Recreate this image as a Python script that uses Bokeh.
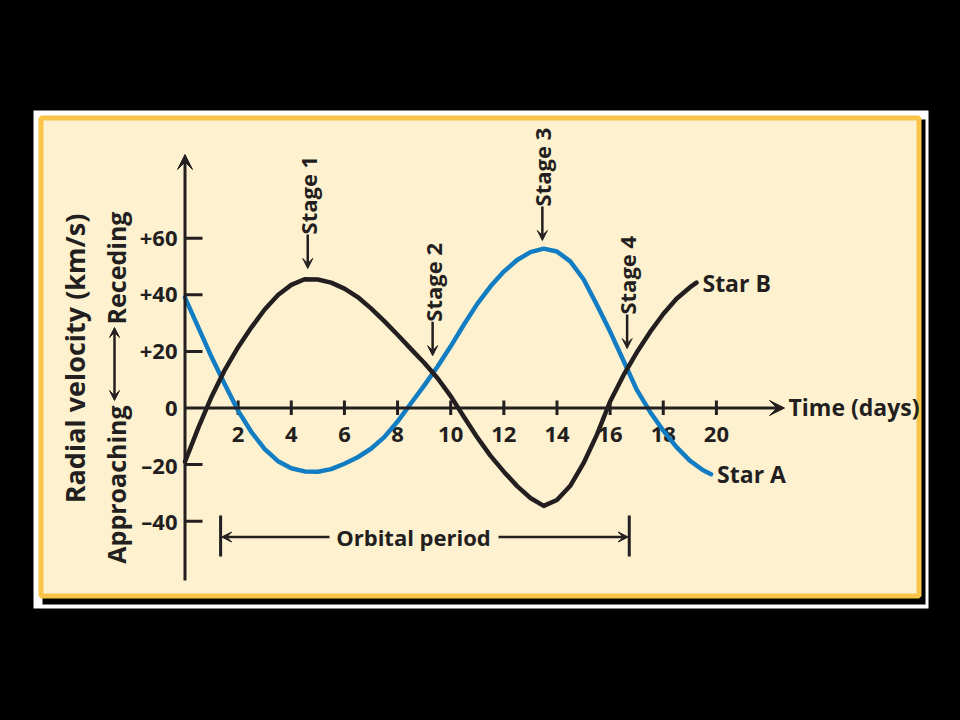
import math
from bokeh.plotting import figure
from bokeh.models import Range1d, Arrow, VeeHead
from bokeh.core.properties import value
from bokeh.embed import file_html
from bokeh.resources import INLINE
try:
    from bokeh.models import GlobalInlineStyleSheet
except Exception:
    GlobalInlineStyleSheet = None

# ---------------- data ----------------
days_a = [0.0, 0.5, 1.0, 1.5, 2.0, 2.5, 3.0, 3.5, 4.0, 4.5, 5.0, 5.5, 6.0, 6.5, 7.0,
          7.5, 8.0, 8.5, 9.0, 9.5, 10.0, 10.5, 11.0, 11.5, 12.0, 12.5, 13.0, 13.5,
          14.0, 14.5, 15.0, 15.5, 16.0, 16.5, 17.0, 17.5, 18.0, 18.5, 19.0, 19.5, 19.8]
vel_a = [39, 28.5, 18, 8.3, -1, -8.5, -14.5, -18.8, -21.3, -22.4, -22.5, -21.6, -19.7,
         -17.4, -14.4, -10.3, -4.8, 1.6, 7.9, 14.6, 21.8, 29.5, 36.8, 43.0, 48.2, 52.3,
         55.1, 56.3, 55.3, 51.8, 45.5, 36.5, 27, 16.8, 6.5, -1.3, -8.0, -13.8, -18.6,
         -22.0, -23.4]

days_b = [0.0, 0.5, 1.0, 1.5, 2.0, 2.5, 3.0, 3.5, 4.0, 4.5, 5.0, 5.5, 6.0, 6.5, 7.0,
          7.5, 8.0, 8.5, 9.0, 9.5, 10.0, 10.5, 11.0, 11.5, 12.0, 12.5, 13.0, 13.5,
          14.0, 14.5, 15.0, 15.5, 16.0, 16.5, 17.0, 17.5, 18.0, 18.5, 19.0, 19.25]
vel_b = [-19, -7, 4, 13.5, 21.5, 28.5, 34.8, 39.9, 43.5, 45.5, 45.4, 44.3, 42.2, 39.2,
         35.2, 30.7, 25.9, 20.9, 16.0, 10.6, 4.2, -3.2, -10.4, -16.9, -22.5, -27.6,
         -31.8, -34.6, -32.5, -27.5, -19.5, -9.5, 2.3, 11.5, 19.6, 26.8, 33.2, 38.6,
         42.6, 44.3]

x_ticks = [2, 4, 6, 8, 10, 12, 14, 16, 18, 20]
y_ticks = [60, 40, 20, 0, -20, -40]
y_tick_labels = ["+60", "+40", "+20", "0", "\u201320", "\u201340"]

stage_labels = ["Stage 1", "Stage 2", "Stage 3", "Stage 4"]
stage_days = [4.62, 9.32, 13.45, 16.64]
stage_vel = [49.3, 18.5, 59.2, 21.0]      # where each arrow points

period_start = 1.34
period_end = 16.72

# ---------------- geometry (page pixels -> data) ----------------
W, H = 960, 720
X0, SX = 184.5, 26.57      # page px of day 0, px per day
Y0, SY = 407.5, 2.83       # page px of 0 km/s, px per km/s


def rx(px):
    return (px - X0) / SX


def ry(py):
    return (Y0 - py) / SY


INK = "#231F20"
BLUE = "#127DC2"
FONT = value("Open Sans")

p = figure(width=W, height=H, output_backend="svg", toolbar_location=None,
           x_range=Range1d(rx(0), rx(W)), y_range=Range1d(ry(H), ry(0)),
           min_border=0, tools="")
p.axis.visible = False
p.grid.visible = False
p.outline_line_color = None
p.background_fill_color = "black"
p.border_fill_color = "black"
if GlobalInlineStyleSheet is not None:
    p.stylesheets = [GlobalInlineStyleSheet(
        css="html, body { background-color: #000000; margin: 0; padding: 0; overflow: hidden; }")]

# frame / panel
p.quad(left=[rx(33)], right=[rx(928)], top=[ry(110)], bottom=[ry(608)],
       fill_color="white", line_color=None)
p.quad(left=[rx(42)], right=[rx(925)], top=[ry(119)], bottom=[ry(604)],
       fill_color="black", line_color=None)
p.quad(left=[rx(40.5)], right=[rx(918.5)], top=[ry(117.5)], bottom=[ry(595.5)],
       fill_color="#FDF1CF", line_color="#F8C548", line_width=5)

# axes
p.add_layout(Arrow(end=VeeHead(size=15, fill_color=INK, line_color=INK, line_width=1),
                   x_start=0, y_start=ry(580), x_end=0, y_end=ry(154),
                   line_color=INK, line_width=3))
p.add_layout(Arrow(end=VeeHead(size=15, fill_color=INK, line_color=INK, line_width=1),
                   x_start=0, y_start=0, x_end=rx(784), y_end=0,
                   line_color=INK, line_width=3))

# ticks
yt = [t for t in y_ticks if t != 0]
p.segment(x0=[0] * len(yt), x1=[rx(202)] * len(yt), y0=yt, y1=yt,
          line_color=INK, line_width=3)
p.segment(x0=x_ticks, x1=x_ticks, y0=[ry(400)] * len(x_ticks), y1=[ry(414.5)] * len(x_ticks),
          line_color=INK, line_width=3)

p.text(x=[rx(177)] * len(y_ticks), y=y_ticks, text=y_tick_labels,
       text_align="right", text_baseline="middle", text_font=FONT,
       text_font_style="bold", text_font_size="22px", text_color=INK)
p.text(x=x_ticks, y=[ry(434)] * len(x_ticks), text=[str(t) for t in x_ticks],
       text_align="center", text_baseline="middle", text_font=FONT,
       text_font_style="bold", text_font_size="22px", text_color=INK)

p.text(x=[rx(788)], y=[0.3], text=["Time (days)"], text_align="left",
       text_baseline="middle", text_font=FONT, text_font_style="bold",
       text_font_size="23px", text_color=INK)

# y axis title
p.text(x=[rx(74)], y=[ry(358)], text=["Radial velocity (km/s)"], angle=math.pi / 2,
       text_align="center", text_baseline="middle", text_font=FONT,
       text_font_style="bold", text_font_size="27px", text_color=INK)
p.text(x=[rx(115)] * 2, y=[ry(267.5), ry(484)], text=["Receding", "Approaching"],
       angle=math.pi / 2, text_align="center", text_baseline="middle", text_font=FONT,
       text_font_style="bold", text_font_size="25px", text_color=INK)
p.add_layout(Arrow(start=VeeHead(size=10, fill_color=INK, line_color=INK, line_width=1),
                   end=VeeHead(size=10, fill_color=INK, line_color=INK, line_width=1),
                   x_start=rx(114), y_start=ry(400), x_end=rx(114), y_end=ry(327),
                   line_color=INK, line_width=2.5))

# curves
p.line(days_a, vel_a, line_color=BLUE, line_width=4.5, line_join="round", line_cap="round")
p.line(days_b, vel_b, line_color=INK, line_width=4.5, line_join="round", line_cap="round")

p.text(x=[days_b[-1] + 6 / SX], y=[vel_b[-1]], text=["Star B"], text_align="left",
       text_baseline="middle", text_font=FONT, text_font_style="bold",
       text_font_size="23px", text_color=INK)
p.text(x=[days_a[-1] + 6 / SX], y=[vel_a[-1]], text=["Star A"], text_align="left",
       text_baseline="middle", text_font=FONT, text_font_style="bold",
       text_font_size="23px", text_color=INK)

# stage markers
arrow_len = 34 / SY
text_start = [v + arrow_len for v in stage_vel]
p.text(x=stage_days, y=text_start, text=stage_labels, angle=math.pi / 2,
       text_align="left", text_baseline="middle", text_font=FONT,
       text_font_style="bold", text_font_size="22px", text_color=INK)
for d, v, t in zip(stage_days, stage_vel, text_start):
    p.add_layout(Arrow(end=VeeHead(size=10, fill_color=INK, line_color=INK, line_width=1),
                       x_start=d, y_start=t, x_end=d, y_end=v,
                       line_color=INK, line_width=2.5))

# orbital period
pb_top, pb_bot, pb_mid = ry(515), ry(556), ry(536.5)
p.segment(x0=[period_start, period_end], x1=[period_start, period_end],
          y0=[pb_top, pb_top], y1=[pb_bot, pb_bot], line_color=INK, line_width=3)
p.add_layout(Arrow(end=VeeHead(size=10, fill_color=INK, line_color=INK, line_width=1),
                   x_start=rx(329), y_start=pb_mid, x_end=period_start + 0.04, y_end=pb_mid,
                   line_color=INK, line_width=2.5))
p.add_layout(Arrow(end=VeeHead(size=10, fill_color=INK, line_color=INK, line_width=1),
                   x_start=rx(498), y_start=pb_mid, x_end=period_end - 0.04, y_end=pb_mid,
                   line_color=INK, line_width=2.5))
p.text(x=[rx(413)], y=[pb_mid], text=["Orbital period"],
       text_align="center", text_baseline="middle", text_font=FONT,
       text_font_style="bold", text_font_size="22px", text_color=INK)

open("out.html", "w").write(file_html(p, INLINE))
